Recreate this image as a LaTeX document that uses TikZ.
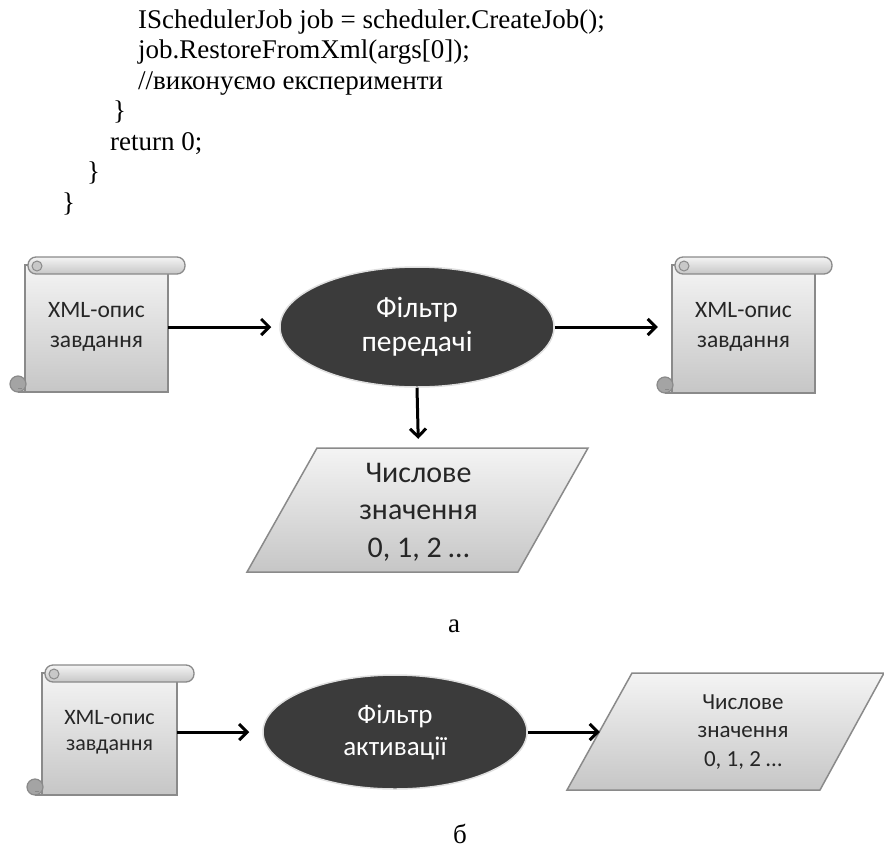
\documentclass[tikz,border=0pt]{standalone}
\usepackage{fontspec}
\setmainfont{Liberation Serif}
\newfontfamily\calfont{Carlito}
\usetikzlibrary{arrows.meta,shapes.geometric}
\definecolor{sctop}{HTML}{F4F4F4}
\definecolor{scbot}{HTML}{C6C6C6}
\definecolor{scline}{HTML}{8A8A8A}
\definecolor{sccurl}{HTML}{A4A4A4}
\definecolor{filtfill}{HTML}{3B3B3B}
\definecolor{labtext}{HTML}{262626}
\tikzset{
  code/.style={anchor=base west, inner sep=0pt, font=\fontsize{27}{30}\selectfont},
  filt/.style={ellipse, fill=filtfill, draw=gray!25, line width=1.5pt, text=white, align=center, inner sep=0pt},
  lbl/.style={align=center, text=labtext, inner sep=0pt},
  flow/.style={line width=3pt, -{Straight Barb[length=8pt,width=16pt]}},
  shapeline/.style={draw=scline, line width=1.3pt, top color=sctop, bottom color=scbot},
  capt/.style={anchor=base, inner sep=0pt, font=\fontsize{27}{30}\selectfont},
}
% scroll decoration: #1=L #2=T #3=R #4=B
\newcommand\scrolldeco[4]{%
  \shade[shapeline] (#1,#2+8) rectangle (#3,#4);
  \filldraw[draw=scline, fill=sccurl, line width=1.2pt] (#1-7,#4-8) circle (8pt);
  \draw[scline, line width=1.2pt] (#1-7,#4) -- (#3,#4);
  \draw[scline, line width=1pt] (#1-7,#4-4) -- (#1-3,#4-4);
  \shade[shapeline, rounded corners=8pt] (#1+3,#2) rectangle (#3+17,#2+17);
  \filldraw[draw=scline, fill=sccurl!60, line width=1pt] (#1+12,#2+9) circle (5pt);
}
\begin{document}
\begin{tikzpicture}[x=1pt,y=-1pt]
\useasboundingbox (0,0) rectangle (884,852);

% code lines
\node[code] (c1) at (138,28) {ISchedulerJob job = scheduler.CreateJob();};
\node[code] (c2) at (138,58.5) {job.RestoreFromXml(args[0]);};
\node[code] (c3) at (138,89) {//виконуємо експерименти};
\node[code] (c4) at (113,119.5) {\}};
\node[code] (c5) at (110,150) {return 0;};
\node[code] (c6) at (87,180.5) {\}};
\node[code] (c7) at (62,211) {\}};

% ---------- diagram a ----------
\scrolldeco{25}{257}{168}{392}
\scrolldeco{672}{257}{815}{393}
\node[lbl, minimum width=143pt, minimum height=127pt,
      font=\calfont\fontsize{23.5}{30}\selectfont] (x1) at (96.5,327) {XML-опис\\завдання};
\node[lbl, minimum width=143pt, minimum height=127pt,
      font=\calfont\fontsize{23.5}{30}\selectfont] (x2) at (743.5,327) {XML-опис\\завдання};

\node[filt, minimum width=274pt, minimum height=120pt,
      font=\calfont\fontsize{29.5}{34}\selectfont] (f1) at (417,327) {Фільтр\\передачі};

\shade[shapeline, line width=1.5pt] (317,448) -- (588,448) -- (518,572) -- (247,572) -- cycle;
\node[lbl, minimum width=200pt, minimum height=124pt,
      font=\calfont\fontsize{30}{37.5}\selectfont] (p1) at (418.5,512) {Числове\\значення\\0, 1, 2 …};

\draw[flow, shorten >=8pt] (x1.east) -- (f1.west);
\draw[flow, shorten >=14pt] (f1.east) -- (x2.west);
\draw[flow, shorten >=11pt] (f1.south) -- (p1.north);

\node[capt] (capa) at (454,632) {а};

% ---------- diagram b ----------
\scrolldeco{42}{665}{177}{795}
\node[lbl, minimum width=135pt, minimum height=120pt,
      font=\calfont\fontsize{22}{26}\selectfont] (x3) at (109.5,732) {XML-опис\\завдання};

\node[filt, minimum width=264pt, minimum height=114pt,
      font=\calfont\fontsize{27}{32}\selectfont] (f2) at (395,732) {Фільтр\\активації};

\shade[shapeline, line width=1.5pt] (632,673) -- (884,673) -- (820,790) -- (567,790) -- cycle;
\node[lbl, minimum width=286pt, minimum height=117pt,
      font=\calfont\fontsize{23}{28.5}\selectfont] (p2) at (743,732) {Числове\\значення\\0, 1, 2 …};

\draw[flow, shorten >=13pt] (x3.east) -- (f2.west);
\draw[flow] (f2.east) -- (p2.west);

\node[capt] (capb) at (460,843) {б};
\end{tikzpicture}
\end{document}
